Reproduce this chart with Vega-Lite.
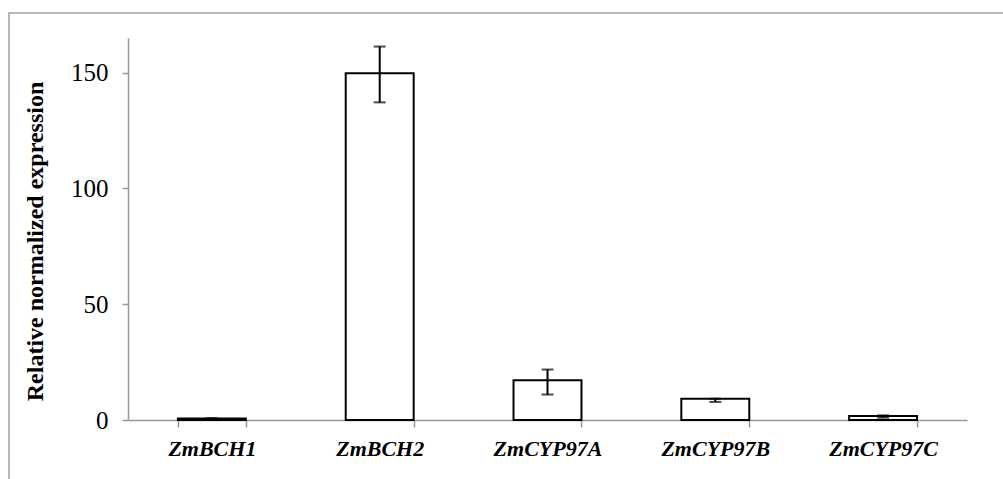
{
  "$schema": "https://vega.github.io/schema/vega-lite/v6.json",
  "autosize": {"type": "none"},
  "padding": {"left": 9, "top": 13, "right": 0, "bottom": 0},
  "width": 1000,
  "height": 480,
  "background": "white",
  "config": {
    "view": {"stroke": "#a0a0a0", "strokeWidth": 1.5},
    "font": "Liberation Serif"
  },
  "data": {
    "values": [
      {"gene": "ZmBCH1", "value": 0.6, "lo": 0.4, "hi": 0.8},
      {"gene": "ZmBCH2", "value": 149.8, "lo": 137.2, "hi": 161.3},
      {"gene": "ZmCYP97A", "value": 17.2, "lo": 11.0, "hi": 21.8},
      {"gene": "ZmCYP97B", "value": 9.2, "lo": 7.8, "hi": 9.2},
      {"gene": "ZmCYP97C", "value": 1.7, "lo": 1.0, "hi": 2.0}
    ]
  },
  "encoding": {
    "x": {
      "field": "gene",
      "type": "nominal",
      "sort": null,
      "scale": {"range": [119, 958], "paddingInner": 0.595, "paddingOuter": 0.2975},
      "axis": {
        "title": null,
        "offset": -73,
        "labelAngle": 0,
        "labelFont": "Liberation Serif",
        "labelFontSize": 22,
        "labelFontStyle": "italic",
        "labelFontWeight": "bold",
        "labelColor": "black",
        "labelPadding": 11,
        "tickBand": "extent",
        "tickSize": 7,
        "tickWidth": 1.5,
        "tickColor": "#999999",
        "domainColor": "#999999",
        "domainWidth": 1.5
      }
    }
  },
  "layer": [
    {
      "mark": {"type": "bar", "fill": "white", "stroke": "black", "strokeWidth": 2},
      "encoding": {
        "y": {
          "field": "value",
          "type": "quantitative",
          "title": "Relative normalized expression",
          "scale": {"domain": [0, 165], "range": [407, 25], "nice": false, "zero": true},
          "axis": {
            "values": [0, 50, 100, 150],
            "grid": false,
            "offset": -119,
            "labelFont": "Liberation Serif",
            "labelFontSize": 25,
            "labelColor": "black",
            "labelPadding": 14,
            "tickSize": 6,
            "tickWidth": 1.5,
            "tickColor": "#999999",
            "domainColor": "#999999",
            "domainWidth": 1.5,
            "titleFont": "Liberation Serif",
            "titleFontSize": 24,
            "titleFontWeight": "bold",
            "titleColor": "black",
            "titleX": -93,
            "titleY": 228,
            "titleAngle": -90,
            "titleAlign": "center",
            "titleBaseline": "middle"
          }
        }
      }
    },
    {
      "mark": {"type": "errorbar", "ticks": {"size": 12, "thickness": 2, "color": "black"}, "rule": {"strokeWidth": 2, "color": "black"}},
      "encoding": {
        "y": {"field": "lo", "type": "quantitative", "title": "Relative normalized expression"},
        "y2": {"field": "hi"}
      }
    }
  ]
}
